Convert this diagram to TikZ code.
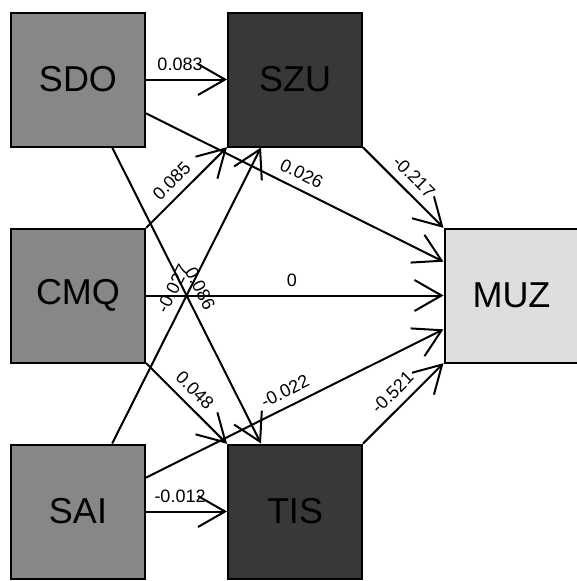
\documentclass[tikz,border=0pt]{standalone}
\usepackage{fontspec}
\setmainfont{Liberation Sans}
\usetikzlibrary{arrows.meta}
\definecolor{exogray}{HTML}{878787}
\definecolor{endogray}{HTML}{383838}
\definecolor{outgray}{HTML}{DEDEDE}
\begin{document}
\begin{tikzpicture}[x=1pt,y=-1pt,
  box/.style={draw=black, line width=2pt, minimum size=134pt, inner sep=0pt,
    font=\fontsize{36}{40}\selectfont, text=black},
  exo/.style={box, fill=exogray},
  endo/.style={box, fill=endogray},
  outc/.style={box, fill=outgray},
  edge/.style={draw=black, line width=2pt, line join=miter,
    -{Straight Barb[length=27pt,width=31pt]}},
  lab/.style={font=\fontsize{18}{20}\selectfont, text=black, sloped, above=6pt, inner sep=2pt}
]
\useasboundingbox (0,0) rectangle (577,581);
\node[exo]  (SDO) at (78,79.5)    {SDO};
\node[endo] (SZU) at (295,79.5)   {SZU};
\node[exo]  (CMQ) at (78,295.5)   {CMQ};
\node[outc] (MUZ) at (511.5,295.5) {MUZ};
\node[exo]  (SAI) at (78,511.5)   {SAI};
\node[endo] (TIS) at (295,511.5)  {TIS};

\draw[edge] (SDO) -- node[lab,pos=0.42] {0.083} (SZU);
\draw[edge] (SDO) -- node[lab,pos=0.5] {0.026} (MUZ);
\draw[edge] (SDO) -- node[lab,pos=0.5] {0.086} (TIS);
\draw[edge] (CMQ) -- node[lab,pos=0.45] {0.085} (SZU);
\draw[edge] (CMQ) -- node[lab,pos=0.49] {0} (MUZ);
\draw[edge] (CMQ) -- node[lab,pos=0.47] {0.048} (TIS);
\draw[edge] (SAI) -- node[lab,pos=0.5] {-0.027} (SZU);
\draw[edge] (SAI) -- node[lab,pos=0.49] {-0.022} (MUZ);
\draw[edge] (SAI) -- node[lab,pos=0.42] {-0.012} (TIS);
\draw[edge] (SZU) -- node[lab,pos=0.5] {-0.217} (MUZ);
\draw[edge] (TIS) -- node[lab,pos=0.5] {-0.521} (MUZ);
\end{tikzpicture}
\end{document}
